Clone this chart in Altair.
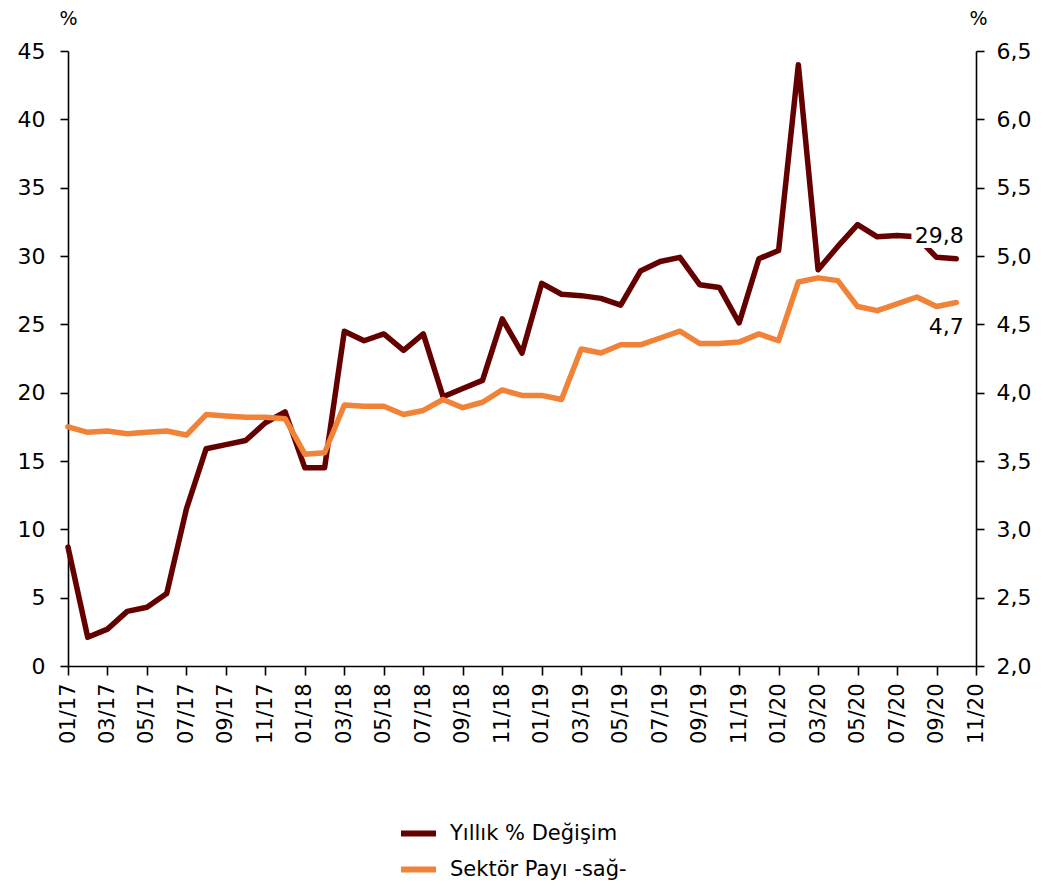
import json
import altair as alt
import pandas as pd

# ---- data ----
series_names = ["Yıllık % Değişim", "Sektör Payı -sağ-"]
series_colors = ["#650000", "#F08338"]

tick_labels = ["01/17", "03/17", "05/17", "07/17", "09/17", "11/17",
               "01/18", "03/18", "05/18", "07/18", "09/18", "11/18",
               "01/19", "03/19", "05/19", "07/19", "09/19", "11/19",
               "01/20", "03/20", "05/20", "07/20", "09/20", "11/20"]

# monthly values, 01/17 .. 10/20
yillik = [8.7, 2.1, 2.7, 4.0, 4.3, 5.3, 11.5, 15.9, 16.2, 16.5, 17.8, 18.6,
          14.5, 14.5, 24.5, 23.8, 24.3, 23.1, 24.3, 19.7, 20.3, 20.9, 25.4, 22.9,
          28.0, 27.2, 27.1, 26.9, 26.4, 28.9, 29.6, 29.9, 27.9, 27.7, 25.1, 29.8,
          30.4, 44.0, 29.0, 30.7, 32.3, 31.4, 31.5, 31.4, 29.9, 29.8]
pay = [3.75, 3.71, 3.72, 3.70, 3.71, 3.72, 3.69, 3.84, 3.83, 3.82, 3.82, 3.81,
       3.55, 3.56, 3.91, 3.90, 3.90, 3.84, 3.87, 3.95, 3.89, 3.93, 4.02, 3.98,
       3.98, 3.95, 4.32, 4.29, 4.35, 4.35, 4.40, 4.45, 4.36, 4.36, 4.37, 4.43,
       4.38, 4.81, 4.84, 4.82, 4.63, 4.60, 4.65, 4.70, 4.63, 4.66]

FONT = "DejaVu Sans"

df_a = pd.DataFrame({"idx": list(range(len(yillik))), "value": yillik, "series": series_names[0]})
df_b = pd.DataFrame({"idx": list(range(len(pay))), "value": pay, "series": series_names[1]})
df_a["label"] = [f"{v:.1f}".replace(".", ",") for v in df_a["value"]]
df_b["label"] = [f"{v:.1f}".replace(".", ",") for v in df_b["value"]]
last_a = df_a.tail(1)
last_b = df_b.tail(1)

label_expr = json.dumps(tick_labels).replace('"', "'") + "[round(datum.value/2)]"

x_enc = alt.X(
    "idx:Q",
    scale=alt.Scale(domain=[0, 46], nice=False, zero=False),
    axis=alt.Axis(
        values=list(range(0, 47, 2)), labelExpr=label_expr, labelAngle=-90,
        labelAlign="right", labelBaseline="middle", labelPadding=8,
        labelOverlap=False, labelFlush=False, tickCount=24,
        tickSize=9, title=None, grid=False, labelFontSize=21,
        labelColor="black", labelFont=FONT, domainColor="black",
        tickColor="black", domainWidth=1.6, tickWidth=1.6,
    ),
)

color = alt.Color(
    "series:N",
    scale=alt.Scale(domain=series_names, range=series_colors),
    legend=alt.Legend(
        title=None, orient="none", legendX=330, legendY=762, direction="vertical",
        symbolType="stroke", symbolSize=1225, symbolStrokeWidth=6,
        labelFontSize=21, labelFont=FONT, labelColor="black", labelOffset=11,
        labelLimit=0, rowPadding=3, padding=0,
    ),
)

y_left = alt.Y(
    "value:Q",
    scale=alt.Scale(domain=[0, 45], nice=False, zero=False),
    axis=alt.Axis(
        orient="left", values=list(range(0, 50, 5)), tickSize=8, labelPadding=15,
        grid=False, title="%", titleAngle=0, titleX=0, titleY=-33,
        titleAlign="center", titleBaseline="middle", titleFontSize=19,
        titleFontWeight="normal", titleFont=FONT, labelFontSize=22, labelFont=FONT,
        labelColor="black", domainColor="black", tickColor="black",
        domainWidth=1.6, tickWidth=1.6,
    ),
)

y_right = alt.Y(
    "value:Q",
    scale=alt.Scale(domain=[2.0, 6.5], nice=False, zero=False),
    axis=alt.Axis(
        orient="right", values=[2.0, 2.5, 3.0, 3.5, 4.0, 4.5, 5.0, 5.5, 6.0, 6.5],
        labelExpr="replace(format(datum.value, '.1f'), '.', ',')",
        tickSize=8, labelPadding=12, grid=False, title="%", titleAngle=0,
        titleX=2, titleY=-33, titleAlign="center", titleBaseline="middle",
        titleFontSize=19, titleFontWeight="normal", titleFont=FONT,
        labelFontSize=22, labelFont=FONT, labelColor="black",
        domainColor="black", tickColor="black", domainWidth=1.6, tickWidth=1.6,
    ),
)

line_a = alt.Chart(df_a).mark_line(strokeWidth=5.5, strokeCap="round", strokeJoin="round").encode(
    x=x_enc, y=y_left, color=color)
halo_a = alt.Chart(last_a).mark_text(
    font=FONT, fontSize=22, align="center", baseline="alphabetic", dx=-17, dy=-16,
    color="white", stroke="white", strokeWidth=10).encode(
    x=x_enc, y=y_left, text="label:N")
text_a = alt.Chart(last_a).mark_text(
    font=FONT, fontSize=22, align="center", baseline="alphabetic", dx=-17, dy=-16,
    color="black").encode(x=x_enc, y=y_left, text="label:N")

line_b = alt.Chart(df_b).mark_line(strokeWidth=5.5, strokeCap="round", strokeJoin="round").encode(
    x=x_enc, y=y_right, color=color)
text_b = alt.Chart(last_b).mark_text(
    font=FONT, fontSize=22, align="center", baseline="alphabetic", dx=-10, dy=32,
    color="black").encode(x=x_enc, y=y_right, text="label:N")

left = alt.layer(line_a, halo_a, text_a)
right = alt.layer(line_b, text_b)

chart = alt.layer(left, right).resolve_scale(y="independent").properties(
    width=908, height=615,
    autosize=alt.AutoSizeParams(type="none"),
    padding={"left": 60, "top": 43, "right": 59, "bottom": 215},
).configure(font=FONT).configure_view(stroke=None)

chart.save("out.html", embed_options={"renderer": "svg", "actions": False})
